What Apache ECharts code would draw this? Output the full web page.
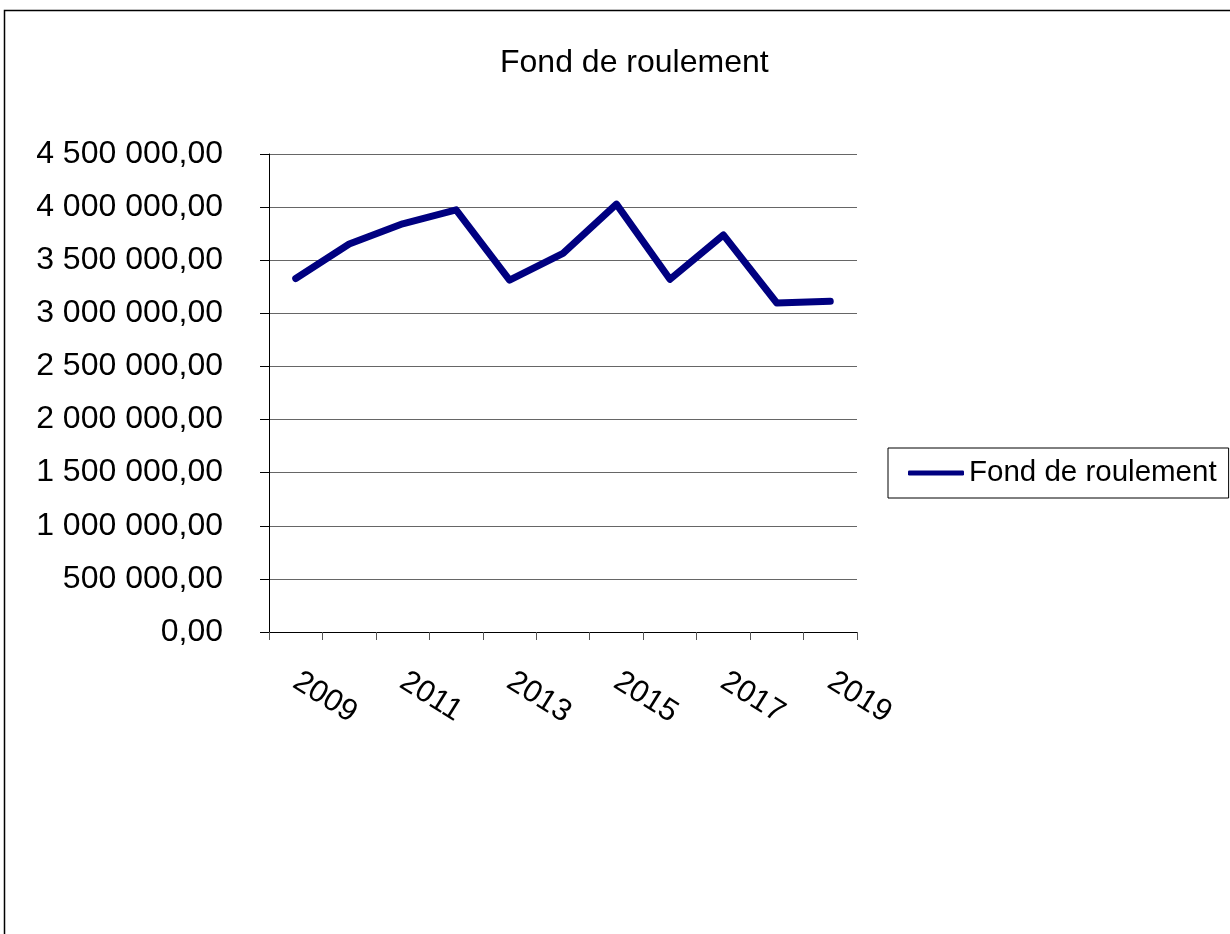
<!DOCTYPE html>
<html>
<head>
<meta charset="utf-8">
<script src="https://cdn.jsdelivr.net/npm/echarts@6/dist/echarts.min.js"></script>
<style>
html,body{margin:0;padding:0;background:#fff;}
#main{width:1230px;height:934px;}
</style>
</head>
<body>
<div id="main"></div>
<script>
const titleText = 'Fond de roulement';
const seriesName = 'Fond de roulement';
const years = ['2009','2010','2011','2012','2013','2014','2015','2016','2017','2018','2019'];
const fondValues = [3328000, 3653000, 3843000, 3975000, 3312000, 3565000, 4028000, 3320000, 3738000, 3097000, 3113000];
const yMin = 0, yMax = 4500000, yStep = 500000;

function fmt(v) {
  const s = Math.round(v).toString().replace(/\B(?=(\d{3})+(?!\d))/g, ' ');
  return s + ',00';
}

const chart = echarts.init(document.getElementById('main'), null, {renderer: 'canvas'});
const FONT = "'Liberation Sans', Arial, sans-serif";
chart.setOption({
  backgroundColor: '#ffffff',
  animation: false,
  graphic: [{
    type: 'rect', silent: true, z: -1,
    shape: {x: 4.5, y: 10.5, width: 1400, height: 1000},
    style: {fill: 'none', stroke: '#000', lineWidth: 1.5}
  }],
  title: {
    text: titleText, left: 500, top: 47, padding: 0,
    textStyle: {fontFamily: FONT, fontSize: 32, fontWeight: 'normal', color: '#000'}
  },
  legend: {
    orient: 'vertical', left: 888, top: 448,
    padding: [10, 12, 10, 20],
    borderColor: '#000', borderWidth: 1,
    itemWidth: 56, itemHeight: 5,
    icon: 'roundRect',
    textStyle: {fontFamily: FONT, fontSize: 29.5, color: '#000'},
    data: [seriesName]
  },
  grid: {left: 269, right: 373, top: 154, bottom: 302, containLabel: false},
  xAxis: {
    type: 'category', data: years, boundaryGap: true,
    axisLine: {lineStyle: {color: '#000', width: 1}},
    axisTick: {show: true, length: 8, interval: 0, lineStyle: {color: '#555'}},
    axisLabel: {interval: 1, rotate: -32, margin: 47, fontFamily: FONT, fontSize: 31, color: '#000'},
    splitLine: {show: false}
  },
  yAxis: {
    type: 'value', min: yMin, max: yMax, interval: yStep,
    axisLine: {show: true, lineStyle: {color: '#000', width: 1}},
    axisTick: {show: true, length: 9, lineStyle: {color: '#000'}},
    axisLabel: {margin: 46, fontFamily: FONT, fontSize: 32, color: '#000', formatter: fmt},
    splitLine: {show: true, lineStyle: {color: '#666', width: 1}}
  },
  series: [{
    name: seriesName, type: 'line', data: fondValues,
    symbol: 'none',
    lineStyle: {color: '#000080', width: 7, cap: 'round', join: 'round'},
    itemStyle: {color: '#000080'}
  }]
});
</script>
</body>
</html>
